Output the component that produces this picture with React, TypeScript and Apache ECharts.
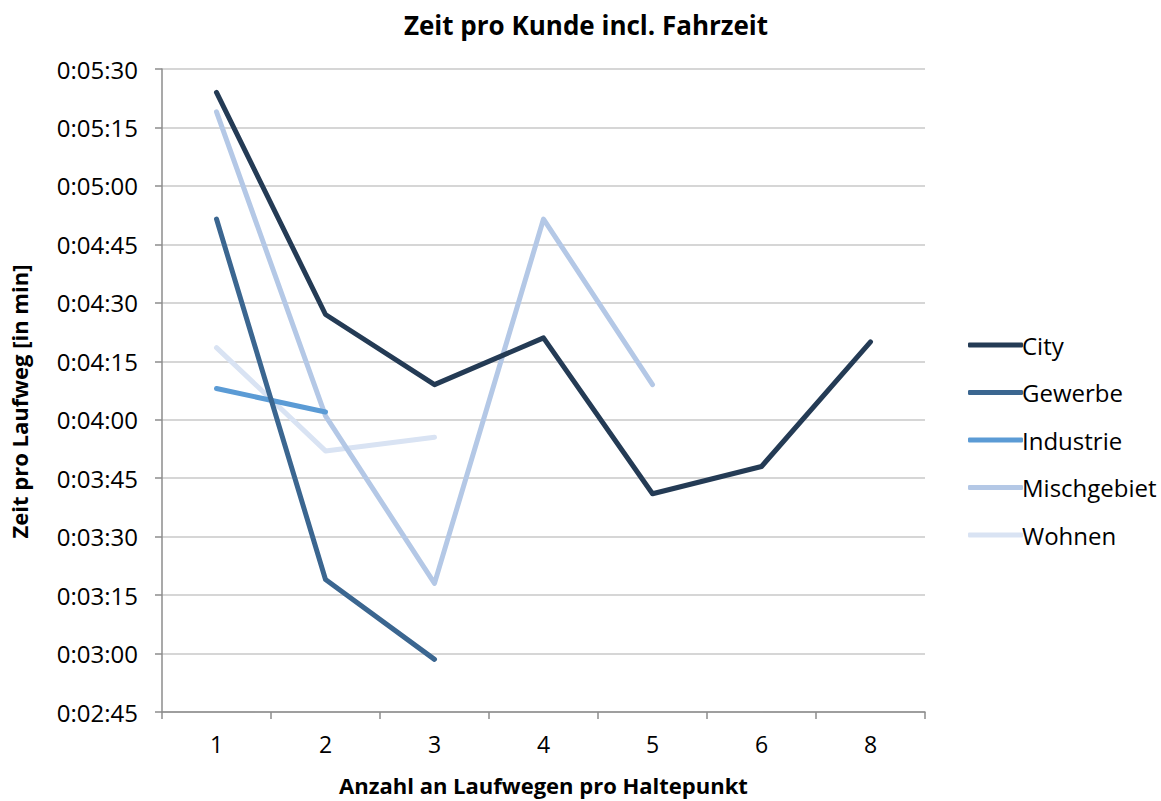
import React, { useEffect, useRef } from "react";
import * as echarts from "echarts";

const categories = ["1", "2", "3", "4", "5", "6", "8"];
// values in seconds
const city = [324, 267, 249, 261, 221, 228, 260];
const gewerbe = [291.5, 199, 178.5, null, null, null, null];
const industrie = [248, 242, null, null, null, null, null];
const mischgebiet = [319, 241, 198, 291.5, 249, null, null];
const wohnen = [258.5, 232, 235.5, null, null, null, null];

const seriesNames = ["City", "Gewerbe", "Industrie", "Mischgebiet", "Wohnen"];
const seriesData = [city, gewerbe, industrie, mischgebiet, wohnen];
const colors = ["#243b55", "#3b6690", "#5b9bd5", "#b4c8e6", "#d9e3f3"];

const FONT = "'Open Sans', sans-serif";

function fmt(v: number) {
  const m = Math.floor(v / 60);
  const s = Math.round(v - m * 60);
  return `0:${String(m).padStart(2, "0")}:${String(s).padStart(2, "0")}`;
}

export default function App() {
  const ref = useRef<HTMLDivElement>(null);
  useEffect(() => {
    if (!ref.current) return;
    const chart = echarts.init(ref.current, undefined, { renderer: "svg" });
    chart.setOption({
      animation: false,
      backgroundColor: "#ffffff",
      title: {
        text: "Zeit pro Kunde incl. Fahrzeit",
        left: 581,
        textAlign: "center",
        top: 7,
        textStyle: { fontFamily: FONT, fontSize: 26, fontWeight: "bold", color: "#000" },
      },
      grid: { left: 160, right: 236, top: 69, bottom: 89, containLabel: false },
      legend: {
        orient: "vertical",
        left: 963,
        top: 328,
        itemWidth: 55,
        itemHeight: 5,
        itemGap: 23.5,
        icon: "roundRect",
        textStyle: { fontFamily: FONT, fontSize: 24, color: "#000", lineHeight: 24, padding: [0, 0, 0, -6] },
        data: seriesNames,
      },
      xAxis: {
        type: "category",
        data: categories,
        boundaryGap: true,
        name: "Anzahl an Laufwegen pro Haltepunkt",
        nameLocation: "middle",
        nameGap: 62,
        nameTextStyle: { fontFamily: FONT, fontSize: 22, fontWeight: "bold", color: "#000" },
        axisLine: { lineStyle: { color: "#8c8c8c", width: 1.5 } },
        axisTick: { show: true, length: 7, lineStyle: { color: "#8c8c8c", width: 1.5 } },
        axisLabel: { fontFamily: FONT, fontSize: 23, color: "#000", margin: 20 },
      },
      yAxis: {
        type: "value",
        min: 165,
        max: 330,
        interval: 15,
        name: "Zeit pro Laufweg [in min]",
        nameLocation: "middle",
        nameGap: 132,
        nameRotate: 90,
        nameTextStyle: { fontFamily: FONT, fontSize: 22, fontWeight: "bold", color: "#000", padding: [0, 22, 0, 0] },
        axisLine: { show: true, lineStyle: { color: "#8c8c8c", width: 1.5 } },
        axisTick: { show: true, length: 7, lineStyle: { color: "#8c8c8c", width: 1.5 } },
        axisLabel: { fontFamily: FONT, fontSize: 24, color: "#000", margin: 24, formatter: (v: number) => fmt(v) },
        splitLine: { show: true, lineStyle: { color: "#c8c8c8", width: 1.5 } },
      },
      series: seriesNames.map((n, i) => ({
        name: n,
        type: "line",
        data: seriesData[i],
        showSymbol: false,
        symbol: "none",
        connectNulls: false,
        color: colors[i],
        lineStyle: { width: 5, color: colors[i], cap: "round", join: "round" },
        z: 10 - i,
      })),
    });
    return () => chart.dispose();
  }, []);
  return <div ref={ref} style={{ width: 1161, height: 801, position: "absolute", left: 0, top: 0 }} />;
}
